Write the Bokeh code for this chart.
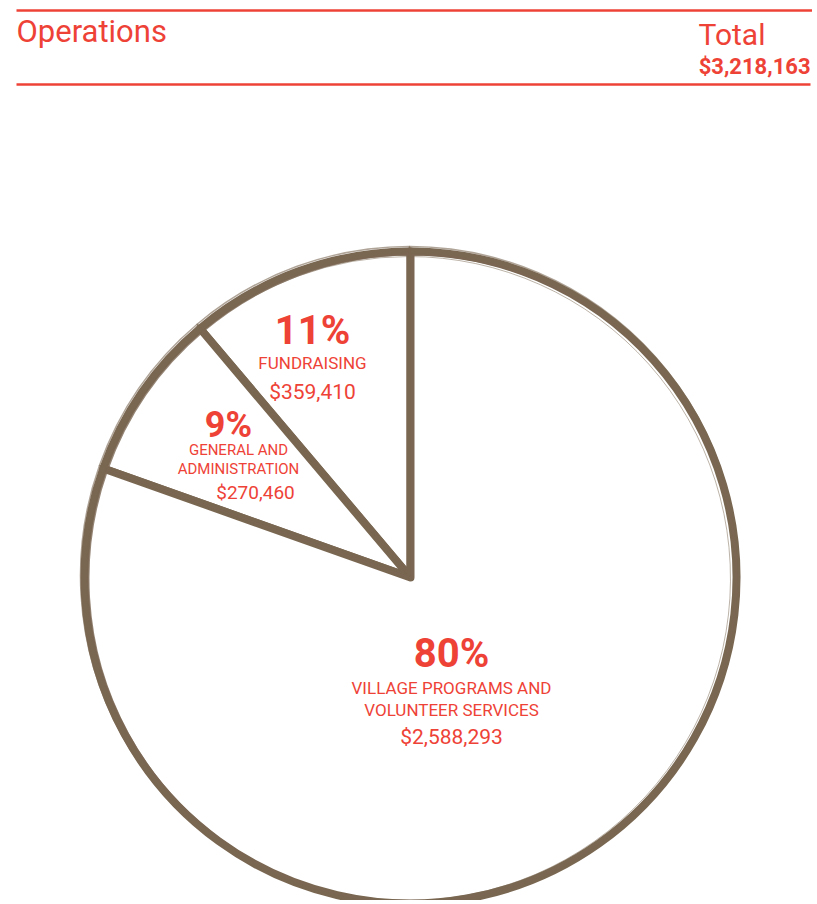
import math
from bokeh.plotting import figure
from bokeh.models import Range1d, ColumnDataSource
from bokeh.core.properties import value
from bokeh.embed import file_html
from bokeh.resources import INLINE

# ---- data ----
title = "Operations"
total_label = "Total"
total_value = 3218163
categories = ["FUNDRAISING", "GENERAL AND\nADMINISTRATION", "VILLAGE PROGRAMS AND\nVOLUNTEER SERVICES"]
amounts = [359410, 270460, 2588293]
percents = ["11%", "9%", "80%"]

RED = "#ee4237"
BROWN = "#7a6752"
W, H = 812, 900

def X(rx):
    return rx

def Y(ry):
    return H - ry

p = figure(width=W, height=H, output_backend="svg", toolbar_location=None,
           x_range=Range1d(0, W), y_range=Range1d(0, H), min_border=0)
p.axis.visible = False
p.grid.visible = False
p.outline_line_color = None
p.background_fill_color = "white"
p.border_fill_color = "white"

# ---- header ----
p.segment(x0=[X(16), X(16)], y0=[Y(10), Y(84)], x1=[X(817), X(810)], y1=[Y(10), Y(84)],
          line_color=RED, line_width=2.5)
p.text(x=[X(16)], y=[Y(31)], text=[title], text_color=RED, text_font=value("Roboto"),
       text_font_size="31px", text_align="left", text_baseline="alphabetic")
p.text(x=[X(698)], y=[Y(34)], text=[total_label], text_color=RED, text_font=value("Roboto"),
       text_font_size="30px", text_align="left", text_baseline="alphabetic")
p.text(x=[X(810)], y=[Y(66)], text=["${:,}".format(total_value)], text_color=RED,
       text_font=value("Roboto"), text_font_style="bold", text_font_size="22px",
       text_align="right", text_baseline="alphabetic")

# ---- pie ----
total = sum(amounts)
starts, ends = [], []
acc = math.pi / 2
for a in amounts:
    starts.append(acc)
    acc += 2 * math.pi * a / total
    ends.append(acc)

cx, cy, r = X(410), Y(577), 326
src = ColumnDataSource(dict(start=starts, end=ends, cat=categories, amt=amounts))
p.wedge(x=cx, y=cy, radius=r, start_angle="start", end_angle="end", source=src,
        fill_color="white", line_color=BROWN, line_width=8, line_join="round")
# sketchy extra strokes (style only)
for dx, dy, dr, lw, la in [(2, -1, -2, 2.0, 0.8), (-1, 2, 3, 1.5, 0.6),
                           (-2, -1, -4, 1.0, 0.5)]:
    p.wedge(x=cx + dx, y=cy + dy, radius=r + dr, start_angle="start", end_angle="end",
            source=src, fill_color=None, line_color=BROWN, line_width=lw, line_alpha=la,
            line_join="round")

# ---- labels (x_pct, y_pct, x_cat, y_cat, x_amt, y_amt, pct size, cat size, amt size) ----
label_pos = [(312, 330, 312, 362, 312, 391, 40, 17, 21),
             (228, 424, 238, 459, 255, 492, 36, 15, 19),
             (451, 653, 451, 698, 451, 736, 40, 17, 21)]
for (px, py, qx, qy, ax, ay, s1, s2, s3), pct, cat, amt in zip(label_pos, percents, categories, amounts):
    p.text(x=[X(px)], y=[Y(py)], text=[pct], text_color=RED, text_font=value("Roboto"),
           text_font_style="bold", text_font_size=f"{s1}px", text_align="center",
           text_baseline="middle")
    p.text(x=[X(qx)], y=[Y(qy)], text=[cat], text_color=RED, text_font=value("Roboto"),
           text_font_size=f"{s2}px", text_align="center", text_baseline="middle",
           text_line_height=1.1)
    p.text(x=[X(ax)], y=[Y(ay)], text=["${:,}".format(amt)], text_color=RED,
           text_font=value("Roboto"), text_font_size=f"{s3}px", text_align="center",
           text_baseline="middle")

open("out.html", "w").write(file_html(p, INLINE))
